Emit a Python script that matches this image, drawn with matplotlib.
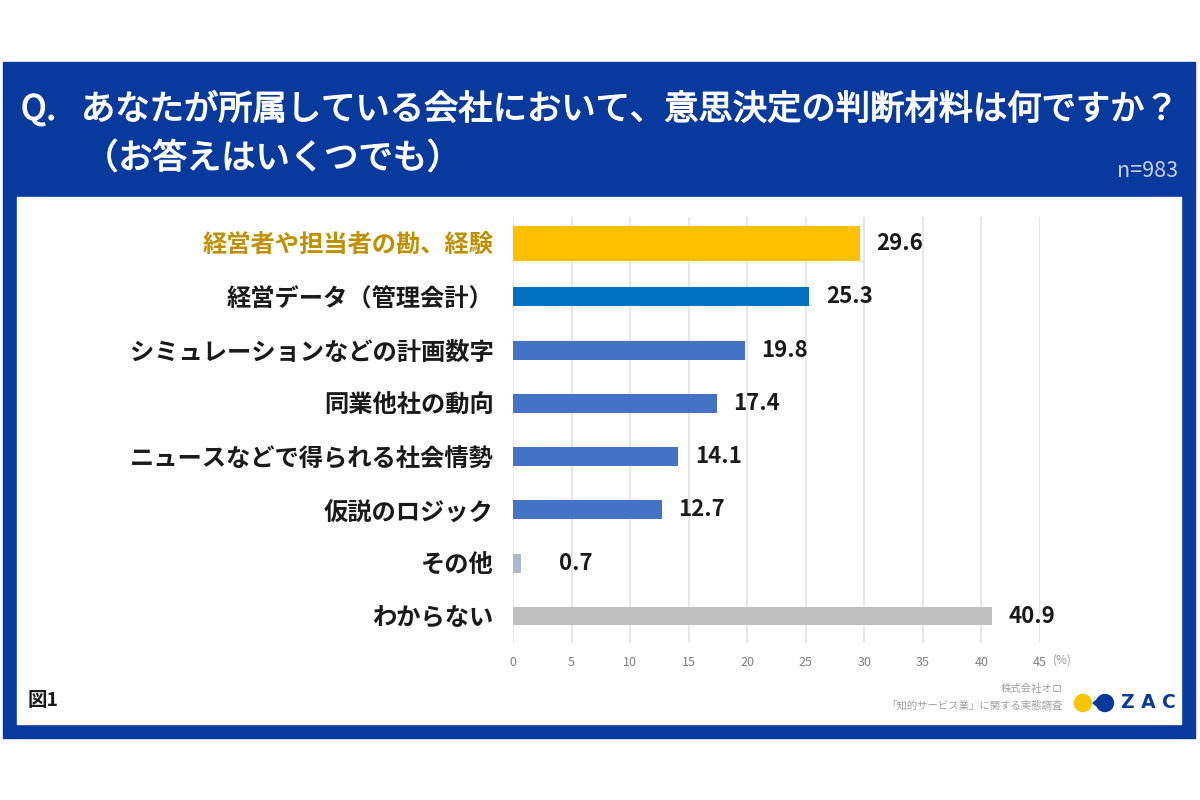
# -*- coding: utf-8 -*-
# %% IMPORT STATEMENTS
import numpy as np
import matplotlib.pyplot as plt
import matplotlib.patheffects as pe
from matplotlib.patches import Rectangle, Circle, Polygon

plt.rcParams['font.family'] = ['Noto Sans CJK JP', 'DejaVu Sans']

# %% DATA
categories = ['経営者や担当者の勘、経験', '経営データ（管理会計）',
              'シミュレーションなどの計画数字', '同業他社の動向',
              'ニュースなどで得られる社会情勢', '仮説のロジック',
              'その他', 'わからない']
values = [29.6, 25.3, 19.8, 17.4, 14.1, 12.7, 0.7, 40.9]
x_ticks = [0, 5, 10, 15, 20, 25, 30, 35, 40, 45]

# %% STYLE
bar_colors = ['#FFC000', '#0070C0', '#4472C4', '#4472C4', '#4472C4',
              '#4472C4', '#ADB9CA', '#BFBFBF']
bar_heights = [0.66, 0.36, 0.36, 0.36, 0.36, 0.36, 0.36, 0.34]
FRAME = '#08399C'
W, H = 1200, 800
# regular weight thickened a little, close to a medium weight
medium = [pe.withStroke(linewidth=0.9, foreground='white')]


def px(x, y):
    """pixel position -> figure fraction"""
    return x / W, 1 - y / H


def inch(x, y):
    """pixel position -> inches from lower left (dpi 100)"""
    return x / 100, (H - y) / 100


fig = plt.figure(figsize=(12, 8), dpi=100)
fig.patch.set_facecolor('white')

# blue frame and white panel
fig.add_artist(Rectangle(px(3, 738), 1192 / W, 676 / H,
                         transform=fig.transFigure, color=FRAME, zorder=0))
fig.add_artist(Rectangle(px(17, 724), 1164 / W, 527 / H,
                         transform=fig.transFigure, color='white', zorder=0))

# title
fig.text(*px(21, 110), 'Q.', color='white', fontsize=24.7, va='center',
         ha='left', path_effects=medium)
fig.text(*px(81, 110), 'あなたが所属している会社において、意思決定の判断材料は何ですか？',
         color='white', fontsize=24.7, va='center', ha='left',
         path_effects=medium)
fig.text(*px(84, 159), '（お答えはいくつでも）', color='white',
         fontsize=24.7, va='center', ha='left', path_effects=medium)
fig.text(*px(1178, 171), 'n=983', color='#C9D2EA', fontsize=15.5,
         va='center', ha='right')

# %% CHART
ax = fig.add_axes([513 / W, 1 - 643 / H, 527 / W, 426 / H])
y_pos = np.arange(len(categories))
ax.barh(y_pos, values, height=bar_heights, color=bar_colors, zorder=2)
ax.set_xlim(0, 45)
ax.set_ylim(len(categories) - 0.5, -0.5)
ax.set_xticks(x_ticks)
ax.set_yticks(y_pos, categories)
ax.tick_params(axis='y', length=0, pad=14, labelsize=17.5)
ax.tick_params(axis='x', length=0, pad=9, labelsize=9, labelcolor='#7F7F7F')
for lab in ax.get_yticklabels():
    lab.set_fontweight('bold')
    lab.set_color('#1A1A1A')
ax.get_yticklabels()[0].set_color('#BF9000')
ax.grid(axis='x', color='#E3E3E3', linewidth=1.2, zorder=0)
ax.set_axisbelow(True)
for s in ax.spines.values():
    s.set_visible(False)
ax.set_facecolor('none')

for yy, v in zip(y_pos, values):
    ax.annotate(f'{v:.1f}', xy=(max(v, 2.5), yy), xytext=(12, 0),
                textcoords='offset points', ha='left', va='center',
                fontsize=16, fontweight='bold', color='#1A1A1A')

ax.annotate('(%)', xy=(45, 0), xycoords=('data', 'axes fraction'),
            xytext=(9, -12.5), textcoords='offset points', ha='left',
            va='center', fontsize=8.5, color='#9A9A9A')

# %% FOOTER
fig.text(*px(28, 701), '図1', fontsize=14, fontweight='bold', va='center',
         ha='left', color='#1A1A1A')
fig.text(*px(1063, 689), '株式会社オロ', fontsize=7.5, color='#A0A0A0',
         va='center', ha='right')
fig.text(*px(1063, 706), '「知的サービス業」に関する実態調査', fontsize=7.5,
         color='#A0A0A0', va='center', ha='right')

# logo (drawn in inches so circles stay round)
tr = fig.dpi_scale_trans
fig.add_artist(Circle(inch(1083, 703), 0.085, transform=tr,
                      color='#F7C600', zorder=3))
fig.add_artist(Circle(inch(1105, 703), 0.085, transform=tr,
                      color=FRAME, zorder=3))
fig.add_artist(Polygon([inch(1093, 703), inch(1103, 695), inch(1103, 711)],
                       closed=True, transform=tr, color=FRAME, zorder=3))
fig.text(*px(1121, 703), 'Z A C', fontsize=13.5, fontweight='bold',
         color=FRAME, va='center', ha='left', family='DejaVu Sans')

plt.savefig('out.png', dpi=100)
